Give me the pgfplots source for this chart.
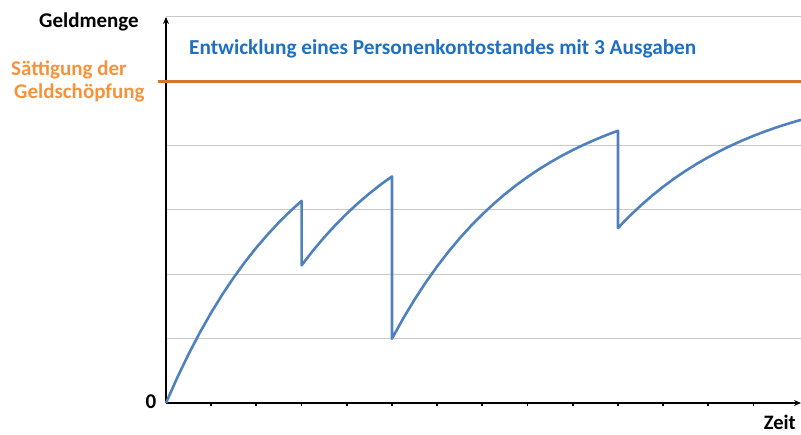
\documentclass[border=0pt]{standalone}
\usepackage{pgfplots}
\pgfplotsset{compat=1.18}
\usepackage{fontspec}
\setmainfont{Carlito}
\usetikzlibrary{arrows.meta}
\definecolor{curve}{RGB}{79,129,189}
\definecolor{sat}{RGB}{214,118,40}
\definecolor{satlbl}{RGB}{247,146,58}
\definecolor{ttl}{RGB}{31,112,193}
\definecolor{gridc}{RGB}{200,200,200}
\begin{document}
\begin{tikzpicture}[x=1pt,y=1pt]
\useasboundingbox (-166pt,-32pt) rectangle (635pt,403pt);
\begin{axis}[
  at={(0,0)}, anchor=origin,
  scale only axis, width=635pt, height=386pt,
  xmin=0, xmax=14.05, ymin=0, ymax=6,
  axis x line=bottom, axis y line=left,
  axis line style={black, line width=2.4pt, -{Stealth[length=7pt,width=6pt]}},
  xtick={1,...,13}, xticklabels={},
  ytick={1,2,3,4,6}, yticklabels={},
  major tick length=3pt,
  tick align=outside,
  x tick style={black, line width=1.8pt},
  y tick style={draw=none},
  ymajorgrids, grid style={gridc, line width=1pt},
  clip=false,
]
\addplot[sat, line width=3.6pt, forget plot] coordinates {(-0.18,5) (14.05,5)};
\addplot[curve, line width=2.6pt, line join=round] coordinates {
(0,0) (0.25,0.396) (0.5,0.760) (0.75,1.096) (1,1.405) (1.25,1.690) (1.5,1.952) (1.75,2.194) (2,2.416) (2.25,2.620) (2.5,2.809) (2.75,2.982) (3,3.142)
(3,2.14) (3.25,2.367) (3.5,2.575) (3.75,2.767) (4,2.944) (4.25,3.107) (4.5,3.257) (4.75,3.395) (5,3.522)
(5,1.00) (5.25,1.317) (5.5,1.608) (5.75,1.877) (6,2.124) (6.25,2.352) (6.5,2.562) (6.75,2.755) (7,2.932) (7.25,3.096) (7.5,3.247) (7.75,3.386) (8,3.514) (8.25,3.632) (8.5,3.740) (8.75,3.840) (9,3.932) (9.25,4.016) (9.5,4.094) (9.75,4.166) (10,4.232)
(10,2.72) (10.25,2.901) (10.5,3.067) (10.75,3.220) (11,3.361) (11.25,3.491) (11.5,3.610) (11.75,3.720) (12,3.821) (12.25,3.915) (12.5,4.001) (12.75,4.080) (13,4.153) (13.25,4.220) (13.5,4.282) (13.75,4.339) (14,4.391) (14.05,4.40)
};
\end{axis}
\node[anchor=base, font=\bfseries\fontsize{21}{24}\selectfont] at (-77pt,375pt) {Geldmenge};
\node[anchor=base, font=\bfseries\fontsize{21}{24}\selectfont] at (-15pt,-6pt) {0};
\node[anchor=base east, inner sep=0pt, font=\bfseries\fontsize{20.5}{24}\selectfont] at (630pt,-27pt) {Zeit};
\node[anchor=base west, inner sep=0pt, font=\bfseries\fontsize{21}{24}\selectfont, text=satlbl] at (-155pt,327pt) {Sättigung der};
\node[anchor=base west, inner sep=0pt, font=\bfseries\fontsize{21}{24}\selectfont, text=satlbl] at (-152pt,304pt) {Geldschöpfung};
\node[anchor=base west, inner sep=0pt, font=\bfseries\fontsize{21.3}{24}\selectfont, text=ttl] at (23pt,348pt) {Entwicklung eines Personenkontostandes mit 3 Ausgaben};
\end{tikzpicture}
\end{document}
